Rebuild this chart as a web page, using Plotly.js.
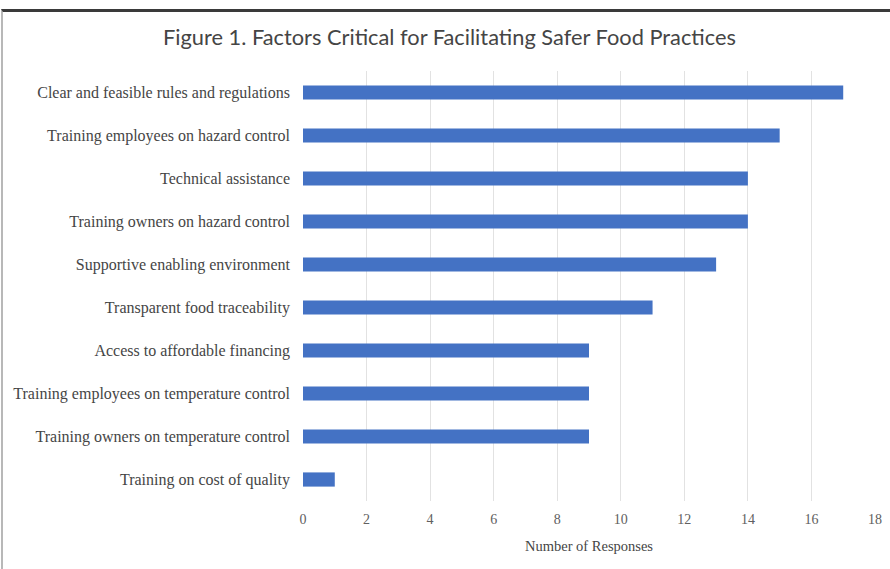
<!DOCTYPE html>
<html>
<head>
<meta charset="utf-8">
<script src="https://cdn.plot.ly/plotly-3.0.1.min.js"></script>
<style>
  html, body { margin: 0; padding: 0; background: #ffffff; }
  #wrap { position: relative; width: 890px; height: 569px; overflow: hidden; }
  #chart { position: absolute; left: 0; top: 0; width: 890px; height: 569px; }
  #frame { position: absolute; left: 1px; top: 9px; width: 889px; height: 560px;
           border-top: 3px solid #3a3a3a; border-left: 2px solid #b8b8b8; box-sizing: border-box; pointer-events: none; }
</style>
</head>
<body>
<div id="wrap">
  <div id="chart"></div>
  <div id="frame"></div>
</div>
<script>
const categories = [
  "Clear and feasible rules and regulations",
  "Training employees on hazard control",
  "Technical assistance",
  "Training owners on hazard control",
  "Supportive enabling environment",
  "Transparent food traceability",
  "Access to affordable financing",
  "Training employees on temperature control",
  "Training owners on temperature control",
  "Training on cost of quality"
];
const responses = [17, 15, 14, 14, 13, 11, 9, 9, 9, 1];
const xTickValues = [0, 2, 4, 6, 8, 10, 12, 14, 16, 18];

const trace = {
  type: "bar",
  orientation: "h",
  y: categories,
  x: responses,
  marker: { color: "#4472C4" },
  hoverinfo: "x+y"
};

const layout = {
  width: 890,
  height: 569,
  margin: { l: 303, r: 15, t: 71, b: 68 },
  paper_bgcolor: "#ffffff",
  plot_bgcolor: "#ffffff",
  bargap: 0.67,
  showlegend: false,
  title: {
    text: "Figure 1. Factors Critical for Facilitating Safer Food Practices",
    font: { family: "Lato, 'Open Sans', sans-serif", size: 21.8, color: "#454545" },
    x: 0.505, xanchor: "center",
    y: 0.935, yanchor: "middle", yref: "container"
  },
  xaxis: {
    range: [0, 18],
    tickvals: xTickValues,
    ticktext: xTickValues.map(String),
    showgrid: true,
    gridcolor: "#e2e2e2",
    gridwidth: 1,
    zeroline: false,
    showline: false,
    ticks: "",
    ticklabelstandoff: 8,
    tickfont: { family: "'Liberation Serif', 'DejaVu Serif', serif", size: 14, color: "#606060" },
    title: {
      text: "Number of Responses",
      font: { family: "'Liberation Serif', 'DejaVu Serif', serif", size: 14.5, color: "#454545" },
      standoff: 14
    },
    fixedrange: true
  },
  yaxis: {
    autorange: "reversed",
    showgrid: false,
    zeroline: false,
    showline: false,
    ticks: "",
    ticklabelstandoff: 12,
    tickfont: { family: "'Liberation Serif', 'DejaVu Serif', serif", size: 16, color: "#454545" },
    fixedrange: true
  }
};

Plotly.newPlot("chart", [trace], layout, { displayModeBar: false, staticPlot: true });
</script>
</body>
</html>
